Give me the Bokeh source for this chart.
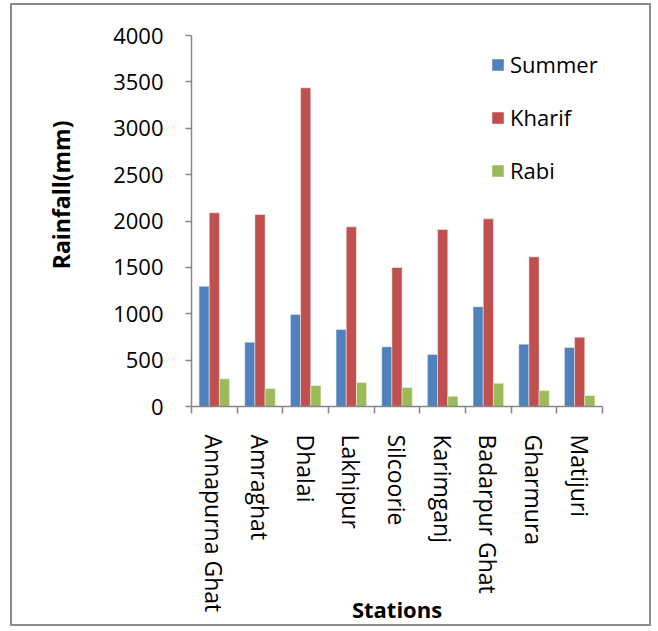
import numpy as np
from bokeh.plotting import figure
from bokeh.models import Range1d, FixedTicker, Legend, Title
from bokeh.embed import file_html
from bokeh.resources import INLINE

# Seasonal rainfall (mm) by gauging station
stations = ["Annapurna Ghat", "Amraghat", "Dhalai", "Lakhipur", "Silcoorie",
            "Karimganj", "Badarpur Ghat", "Gharmura", "Matijuri"]
summer = [1297, 693, 992, 830, 643, 561, 1075, 672, 636]
kharif = [2088, 2070, 3436, 1937, 1499, 1908, 2023, 1614, 747]
rabi = [298, 194, 226, 259, 205, 111, 251, 172, 119]
y_ticks = [0, 500, 1000, 1500, 2000, 2500, 3000, 3500, 4000]

FONT = "Open Sans"
AXIS_GRAY = "#868686"

centers = np.arange(len(stations)) + 0.5
bar_w = 0.223

p = figure(width=641, height=623, x_range=Range1d(0, len(stations)),
           y_range=Range1d(0, 4000), output_backend="svg", toolbar_location=None,
           min_border_left=179, min_border_right=51, min_border_top=30,
           min_border_bottom=222)
p.styles = {"border": "2px solid #8c8c8c", "margin-left": "10px", "margin-top": "3px"}

p.xgrid.grid_line_color = None
p.ygrid.grid_line_color = None
p.outline_line_color = None
p.background_fill_color = "white"
p.border_fill_color = "white"

series = [("Summer", summer, "#4F81BD", -bar_w),
          ("Kharif", kharif, "#C0504D", 0.0),
          ("Rabi", rabi, "#9BBB59", bar_w)]
items = []
for name, vals, color, off in series:
    r = p.vbar(x=centers + off, top=vals, width=bar_w, bottom=0,
               fill_color=color, line_color="white", line_alpha=0.45, line_width=1)
    items.append((name, [r]))

# x axis: labels at category centres, tick marks at category edges
xa = p.xaxis[0]
xa.ticker = FixedTicker(ticks=list(centers), minor_ticks=list(range(len(stations) + 1)))
xa.major_label_overrides = {float(c): s for c, s in zip(centers, stations)}
xa.major_label_orientation = "vertical"
xa.major_tick_out = 0
xa.major_tick_in = 0
xa.minor_tick_out = 7
xa.minor_tick_in = 0
xa.minor_tick_line_color = AXIS_GRAY
xa.minor_tick_line_width = 1.5
xa.axis_line_color = AXIS_GRAY
xa.axis_line_width = 1.5
xa.major_label_standoff = 21
xa.major_label_text_font = FONT
xa.major_label_text_font_size = "23px"
xa.major_label_text_color = "black"
xa.axis_label = "Stations"
xa.axis_label_standoff = -21
xa.axis_label_text_font = FONT
xa.axis_label_text_font_size = "22px"
xa.axis_label_text_font_style = "bold"
xa.axis_label_text_color = "black"

ya = p.yaxis[0]
ya.ticker = FixedTicker(ticks=y_ticks)
ya.major_tick_out = 6
ya.major_tick_in = 0
ya.minor_tick_line_color = None
ya.major_tick_line_color = AXIS_GRAY
ya.major_tick_line_width = 1.5
ya.axis_line_color = AXIS_GRAY
ya.axis_line_width = 1.5
ya.major_label_standoff = 22
ya.major_label_text_font = FONT
ya.major_label_text_font_size = "22px"
ya.major_label_text_color = "black"

# y axis title, set in the upper half of the value axis
p.add_layout(Title(text="Rainfall(mm)", align="right", offset=85, standoff=64,
                   vertical_align="top",
                   text_font=FONT, text_font_size="23px", text_font_style="bold",
                   text_color="black"), "left")

legend = Legend(items=items, location=(299, 221), orientation="vertical",
                glyph_width=15, glyph_height=15, label_height=30, spacing=23,
                label_standoff=5, padding=0, margin=0,
                label_text_font=FONT, label_text_font_size="22px",
                label_text_color="black", border_line_color=None,
                background_fill_alpha=0)
p.add_layout(legend)

open("out.html", "w").write(file_html(p, INLINE))
